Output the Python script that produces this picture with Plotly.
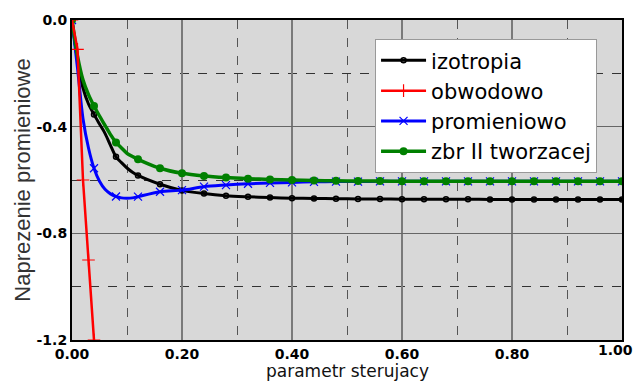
import plotly.graph_objects as go

# marker positions (every 0.04)
X_MARK = [round(0.04 * i, 2) for i in range(26)]
# extra early points that shape the lines between markers
X_FINE = [0.01, 0.02, 0.03, 0.05, 0.06, 0.07, 0.09, 0.10, 0.11]

izotropia_mark = [0.0, -0.354, -0.513, -0.583, -0.616, -0.639, -0.651, -0.659, -0.663, -0.666,
                  -0.668, -0.669, -0.670, -0.671, -0.671, -0.672, -0.672, -0.672, -0.672, -0.673,
                  -0.673, -0.673, -0.673, -0.673, -0.673, -0.673]
izotropia_fine = [-0.15, -0.255, -0.315, -0.39, -0.425, -0.47, -0.535, -0.555, -0.571]

promieniowo_mark = [0.0, -0.556, -0.662, -0.6625, -0.644, -0.638, -0.625, -0.619, -0.614, -0.611,
                    -0.609, -0.607, -0.606, -0.606, -0.605, -0.605, -0.605, -0.605, -0.605, -0.605,
                    -0.605, -0.605, -0.605, -0.605, -0.605, -0.605]
promieniowo_fine = [-0.18, -0.37, -0.48, -0.605, -0.635, -0.652, -0.667, -0.668, -0.667]

zbr_mark = [0.0, -0.3225, -0.459, -0.5225, -0.556, -0.575, -0.585, -0.591, -0.595, -0.598,
            -0.600, -0.602, -0.603, -0.604, -0.604, -0.605, -0.605, -0.605, -0.605, -0.605,
            -0.605, -0.605, -0.605, -0.605, -0.605, -0.605]
zbr_fine = [-0.135, -0.225, -0.28, -0.36, -0.395, -0.43, -0.48, -0.50, -0.512]

obwodowo_x = [0.0, 0.01, 0.02, 0.03, 0.04]
obwodowo_y = [0.0, -0.11, -0.60, -0.90, -1.20]

X_TICKS = [0.0, 0.2, 0.4, 0.6, 0.8]
X_TICKTEXT = ["0.00", "0.20", "0.40", "0.60", "0.80"]
X_LAST_TICK = 1.0
X_LAST_TEXT = "1.00"
Y_TICKS = [0.0, -0.4, -0.8, -1.2]
Y_TICKTEXT = ["0.0", "-0.4", "-0.8", "-1.2"]
X_TITLE = "parametr sterujacy"
Y_TITLE = "Naprezenie promieniowe"


def merged(xm, ym, xf, yf):
    pts = sorted(list(zip(xm, ym)) + list(zip(xf, yf)))
    return [p[0] for p in pts], [p[1] for p in pts]


fig = go.Figure()

series = [
    ("izotropia", izotropia_mark, izotropia_fine, "#000000", 3,
     dict(symbol="circle-open", size=5, color="#000000", line=dict(width=1.5, color="#000000"))),
    ("promieniowo", promieniowo_mark, promieniowo_fine, "#0000ff", 3,
     dict(symbol="x-thin", size=8, color="#0000ff", line=dict(width=1.2, color="#0000ff"))),
    ("zbr II tworzacej", zbr_mark, zbr_fine, "#008000", 3.5,
     dict(symbol="circle", size=8, color="#008000", line=dict(width=0))),
]

legend_traces = []
for name, ym, yf, col, w, mk in series:
    xs, ys = merged(X_MARK, ym, X_FINE, yf)
    fig.add_trace(go.Scatter(x=xs, y=ys, mode="lines", line=dict(color=col, width=w, shape="spline", smoothing=0.8),
                             showlegend=False, hoverinfo="skip"))
    fig.add_trace(go.Scatter(x=X_MARK, y=ym, mode="markers", marker=mk, showlegend=False))
    legend_traces.append((name, col, w, mk))

# red series
fig.add_trace(go.Scatter(x=obwodowo_x, y=obwodowo_y, mode="lines+markers",
                         line=dict(color="#ff0000", width=2.5),
                         marker=dict(symbol="cross-thin", size=9, color="#ff0000",
                                     line=dict(width=1.2, color="#ff0000")),
                         showlegend=False))

order = ["izotropia", "obwodowo", "promieniowo", "zbr II tworzacej"]
lt = {n: (c, w, m) for n, c, w, m in legend_traces}
lt["obwodowo"] = ("#ff0000", 2.5, dict(symbol="cross-thin", size=9, color="#ff0000",
                                        line=dict(width=1.2, color="#ff0000")))
for i, n in enumerate(order):
    c, w, m = lt[n]
    fig.add_trace(go.Scatter(x=[None], y=[None], mode="lines+markers", name=n,
                             line=dict(color=c, width=w), marker=m, legendgroup=n,
                             legendrank=i + 1))

tick_font = dict(family="DejaVu Sans", size=14, color="black", weight="bold")

# last x tick label, right-aligned so it stays inside the picture
fig.add_annotation(x=X_LAST_TICK, y=0, xref="x", yref="paper", text=X_LAST_TEXT,
                   showarrow=False, xanchor="right", yanchor="middle", xshift=12, yshift=-10,
                   borderpad=0, font=tick_font)
# x axis title
fig.add_annotation(x=0.5, y=0, xref="paper", yref="paper", text=X_TITLE,
                   showarrow=False, xanchor="center", yanchor="bottom", yshift=-42,
                   borderpad=0,
                   font=dict(family="DejaVu Sans", size=17, color="#111111"))

fig.update_layout(
    width=637, height=382,
    margin=dict(l=72, r=15, t=20, b=42, autoexpand=False),
    paper_bgcolor="white",
    plot_bgcolor="#d8d8d8",
    showlegend=True,
    legend=dict(x=0.551, y=0.94, xanchor="left", yanchor="top",
                bgcolor="white", bordercolor="#999999", borderwidth=1,
                font=dict(family="DejaVu Sans", size=21, color="black"),
                itemwidth=45,
                tracegroupgap=0, traceorder="normal"),
    xaxis=dict(range=[0, 1.0], tickvals=X_TICKS, ticktext=X_TICKTEXT, tickfont=tick_font,
               ticklabelstandoff=0, automargin=False,
               showgrid=True, gridcolor="#7a7a7a", gridwidth=1.5,
               minor=dict(tickvals=[0.1, 0.3, 0.5, 0.7, 0.9], showgrid=True,
                          gridcolor="#555555", griddash="dash", gridwidth=1),
               showline=True, linecolor="black", linewidth=2, mirror=True,
               zeroline=False, ticks="", ticklen=0),
    yaxis=dict(range=[-1.2, 0.0], tickvals=Y_TICKS, ticktext=Y_TICKTEXT, tickfont=tick_font,
               automargin=False,
               showgrid=True, gridcolor="#666666", gridwidth=1,
               minor=dict(tickvals=[-0.2, -0.6, -1.0], showgrid=True,
                          gridcolor="#333333", griddash="dash", gridwidth=1),
               showline=True, linecolor="black", linewidth=2, mirror=True,
               zeroline=False, ticks="", ticklen=0,
               title=dict(text=Y_TITLE, standoff=0,
                          font=dict(family="Liberation Sans", size=22, color="#333333"))),
)

fig.write_html("out.html")
